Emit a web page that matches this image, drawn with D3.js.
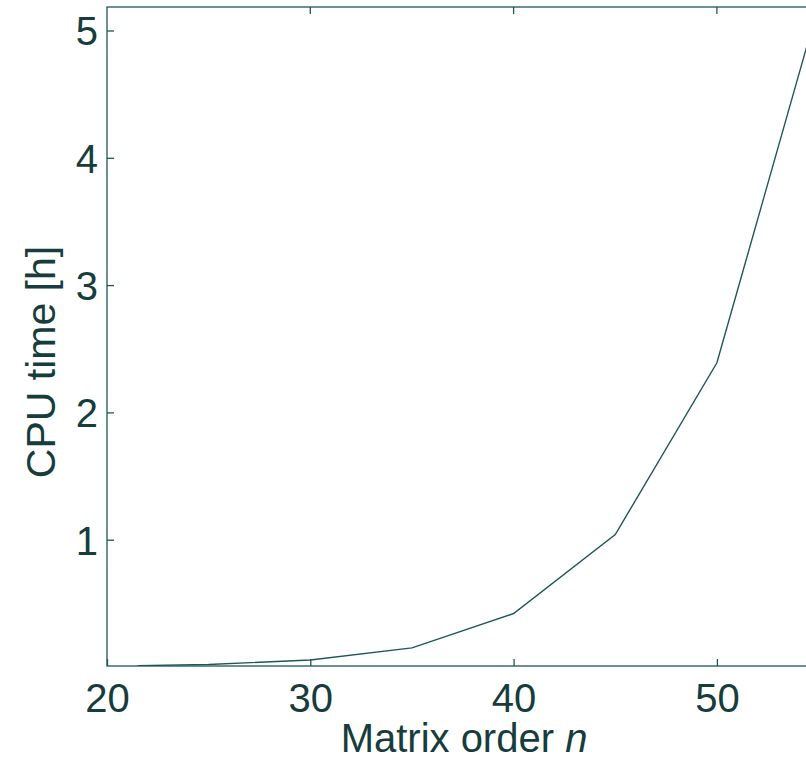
<!DOCTYPE html>
<html>
<head>
<meta charset="utf-8">
<script src="https://cdn.jsdelivr.net/npm/d3@7"></script>
<style>
  body { margin: 0; background: #fff; }
  text { font-family: "Liberation Sans", Arial, sans-serif; fill: #163c3c; }
</style>
</head>
<body>
<script>
// data
const orders = [21.5, 25, 30, 35, 40, 45, 50, 55];
const cpuHours = [0.01, 0.02, 0.055, 0.15, 0.42, 1.04, 2.39, 5.2];
const xTicks = [20, 30, 40, 50];
const yTicks = [1, 2, 3, 4, 5];

const W = 806, H = 761;
const plotLeft = 107, plotTop = 7, plotBottom = 666;
const lineColor = "#1f5656";

const svg = d3.select("body")
    .append("svg")
    .attr("width", W)
    .attr("height", H);

// plot runs past the right edge of the window, like the cropped original
const x = d3.scaleLinear().domain([20, 60]).range([plotLeft, plotLeft + 40 * 20.33]);
const y = d3.scaleLinear().domain([0, 5]).range([plotBottom + 1, plotBottom + 1 - 5 * 127.3]);
const plotRight = x(60);

svg.append("defs").append("clipPath").attr("id", "plot")
    .append("rect")
    .attr("x", plotLeft).attr("y", plotTop)
    .attr("width", plotRight - plotLeft).attr("height", plotBottom - plotTop);

// frame
svg.append("rect")
    .attr("x", plotLeft).attr("y", plotTop)
    .attr("width", plotRight - plotLeft).attr("height", plotBottom - plotTop)
    .attr("fill", "none")
    .attr("stroke", lineColor)
    .attr("stroke-width", 1.3);

// bottom axis, ticks inside
const xAxis = svg.append("g")
    .attr("transform", `translate(0,${plotBottom})`)
    .call(d3.axisBottom(x).tickValues(xTicks).tickFormat(d3.format("d")).tickSize(-7));
xAxis.select(".domain").remove();
xAxis.selectAll("line").attr("stroke", lineColor).attr("stroke-width", 1.3);
xAxis.selectAll("text")
    .attr("font-size", 40)
    .attr("fill", "#163c3c")
    .attr("dy", 0)
    .attr("y", 46);

// top mirror ticks
svg.append("g")
    .selectAll("line")
    .data(xTicks.slice(1))
    .join("line")
    .attr("x1", d => x(d)).attr("x2", d => x(d))
    .attr("y1", plotTop).attr("y2", plotTop + 7)
    .attr("stroke", lineColor).attr("stroke-width", 1.3);

// left axis, ticks inside
const yAxis = svg.append("g")
    .attr("transform", `translate(${plotLeft},0)`)
    .call(d3.axisLeft(y).tickValues(yTicks).tickFormat(d3.format("d")).tickSize(-7));
yAxis.select(".domain").remove();
yAxis.selectAll("line").attr("stroke", lineColor).attr("stroke-width", 1.3);
yAxis.selectAll("text")
    .attr("font-size", 40)
    .attr("fill", "#163c3c")
    .attr("x", -9)
    .attr("dy", "0.36em");

// curve
const line = d3.line()
    .x((d, i) => x(orders[i]))
    .y(d => y(d));

svg.append("path")
    .datum(cpuHours)
    .attr("clip-path", "url(#plot)")
    .attr("d", line)
    .attr("fill", "none")
    .attr("stroke", lineColor)
    .attr("stroke-width", 1.4);

// axis titles
const xTitle = svg.append("text")
    .attr("x", 464)
    .attr("y", 752)
    .attr("text-anchor", "middle")
    .attr("font-size", 40);
xTitle.append("tspan").text("Matrix order ");
xTitle.append("tspan").attr("font-style", "italic").text("n");

svg.append("text")
    .attr("transform", "translate(55,362) rotate(-90)")
    .attr("text-anchor", "middle")
    .attr("font-size", 41)
    .text("CPU time [h]");
</script>
</body>
</html>
